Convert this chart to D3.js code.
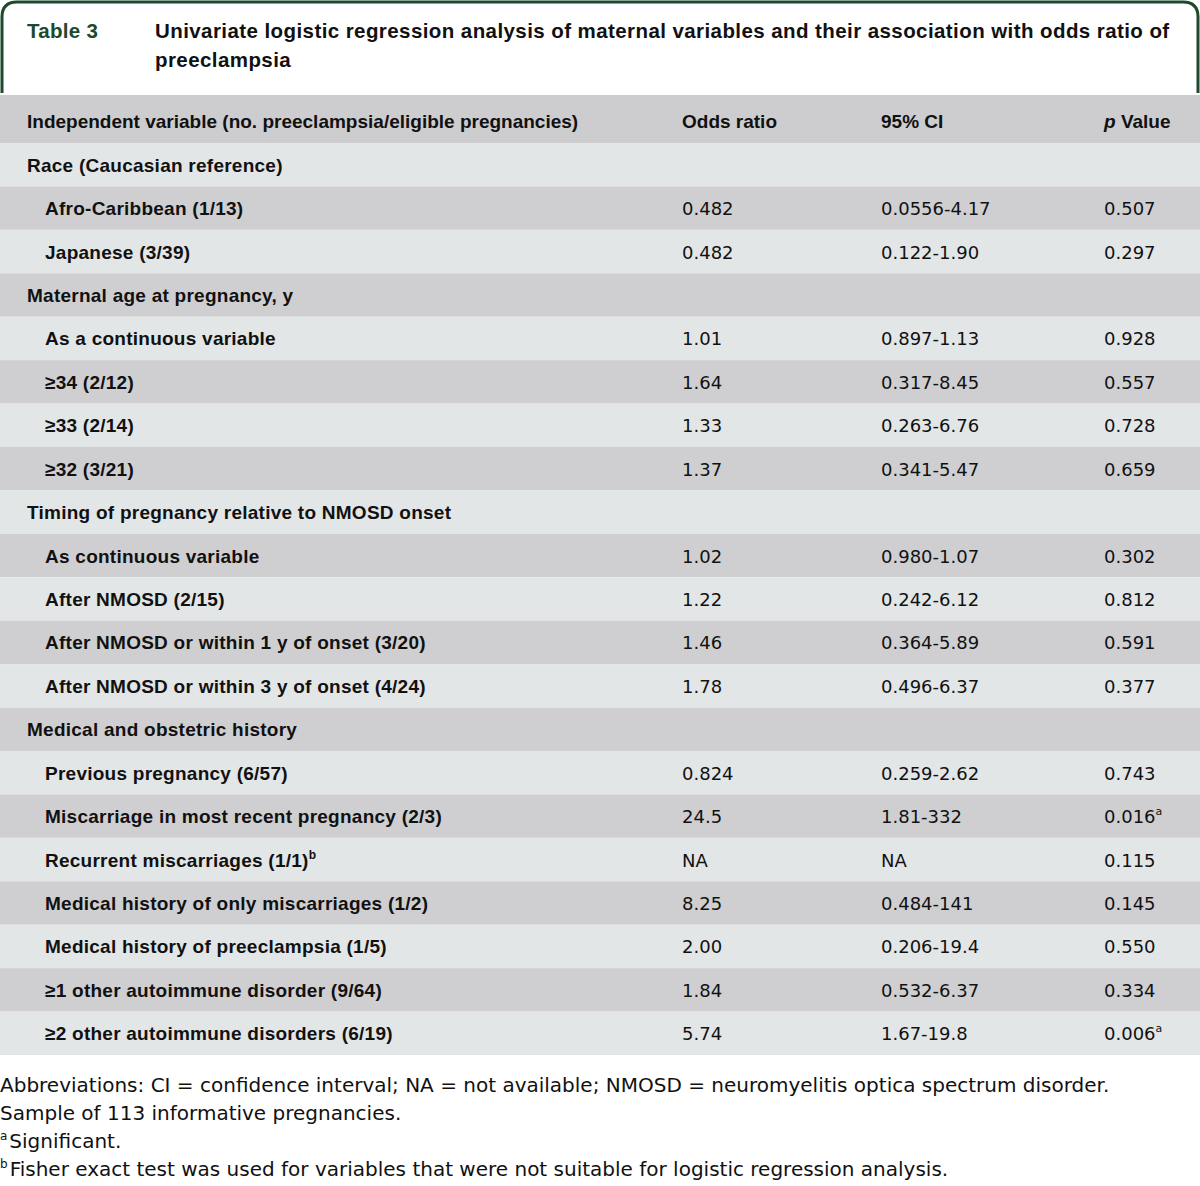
<!DOCTYPE html>
<html>
<head>
<meta charset="utf-8">
<script src="https://cdn.jsdelivr.net/npm/d3@7"></script>
<style>
  body { margin: 0; background: #fff; }
  svg text { font-family: "Liberation Sans", Arial, sans-serif; }
  svg text.num { font-family: "DejaVu Sans", sans-serif; }
</style>
</head>
<body>
<div id="chart"></div>
<script>
// row data
const labels = [
  'Race (Caucasian reference)',
  'Afro-Caribbean (1/13)',
  'Japanese (3/39)',
  'Maternal age at pregnancy, y',
  'As a continuous variable',
  '≥34 (2/12)',
  '≥33 (2/14)',
  '≥32 (3/21)',
  'Timing of pregnancy relative to NMOSD onset',
  'As continuous variable',
  'After NMOSD (2/15)',
  'After NMOSD or within 1 y of onset (3/20)',
  'After NMOSD or within 3 y of onset (4/24)',
  'Medical and obstetric history',
  'Previous pregnancy (6/57)',
  'Miscarriage in most recent pregnancy (2/3)',
  'Recurrent miscarriages (1/1)',
  'Medical history of only miscarriages (1/2)',
  'Medical history of preeclampsia (1/5)',
  '≥1 other autoimmune disorder (9/64)',
  '≥2 other autoimmune disorders (6/19)'
];
const isGroup = [1, 0, 0, 1, 0, 0, 0, 0, 1, 0, 0, 0, 0, 1, 0, 0, 0, 0, 0, 0, 0];
const labelSup = ['', '', '', '', '', '', '', '', '', '', '', '', '', '', '', '', 'b', '', '', '', ''];
const oddsRatios = ['', '0.482', '0.482', '', '1.01', '1.64', '1.33', '1.37', '', '1.02', '1.22', '1.46', '1.78',
                    '', '0.824', '24.5', 'NA', '8.25', '2.00', '1.84', '5.74'];
const cis = ['', '0.0556-4.17', '0.122-1.90', '', '0.897-1.13', '0.317-8.45', '0.263-6.76', '0.341-5.47', '',
             '0.980-1.07', '0.242-6.12', '0.364-5.89', '0.496-6.37', '', '0.259-2.62', '1.81-332', 'NA',
             '0.484-141', '0.206-19.4', '0.532-6.37', '1.67-19.8'];
const pValues = ['', '0.507', '0.297', '', '0.928', '0.557', '0.728', '0.659', '', '0.302', '0.812', '0.591', '0.377',
                 '', '0.743', '0.016', '0.115', '0.145', '0.550', '0.334', '0.006'];
const pSup = ['', '', '', '', '', '', '', '', '', '', '', '', '', '', '', 'a', '', '', '', '', 'a'];
const headers = ['Independent variable (no. preeclampsia/eligible pregnancies)', 'Odds ratio', '95% CI', 'Value'];
const footnotes = [
  { sup : '', text : 'Abbreviations: CI = confidence interval; NA = not available; NMOSD = neuromyelitis optica spectrum disorder.' },
  { sup : '', text : 'Sample of 113 informative pregnancies.' },
  { sup : 'a', text : 'Significant.' },
  { sup : 'b', text : 'Fisher exact test was used for variables that were not suitable for logistic regression analysis.' }
];

const width  = 1200;
const height = 1186;
const green  = '#1d4a2c';

const svg = d3.select( '#chart' )
              .append( 'svg' )
              .attr( 'width', width )
              .attr( 'height', height );

// title box
svg.append( 'path' )
   .attr( 'd', 'M2,93 L2,17 Q2,2 17,2 L1183,2 Q1198,2 1198,17 L1198,93' )
   .attr( 'fill', 'none' )
   .attr( 'stroke', green )
   .attr( 'stroke-width', 3 );

svg.append( 'text' )
   .attr( 'x', 27 ).attr( 'y', 38 )
   .attr( 'font-size', 20.5 ).attr( 'font-weight', 'bold' )
   .attr( 'letter-spacing', 0.3 )
   .attr( 'fill', green )
   .text( 'Table 3' );

const titleLines = ['Univariate logistic regression analysis of maternal variables and their association with odds ratio of',
                    'preeclampsia'];
svg.selectAll( '.title' )
   .data( titleLines )
   .enter()
   .append( 'text' )
   .attr( 'class', 'title' )
   .attr( 'x', 155 )
   .attr( 'y', ( d, i ) => 38 + i * 29 )
   .attr( 'font-size', 20.5 ).attr( 'font-weight', 'bold' )
   .attr( 'letter-spacing', 0.42 )
   .attr( 'fill', '#111' )
   .text( d => d );

// row scale
const y = d3.scaleBand()
            .domain( d3.range( labels.length ) )
            .range( [143, 1055] )
            .padding( 0 );

const colX = [27, 682, 881, 1104];

// header row
svg.append( 'rect' )
   .attr( 'x', 0 ).attr( 'y', 95 )
   .attr( 'width', width ).attr( 'height', 48 )
   .attr( 'fill', '#cdcdcf' );

const hdr = svg.append( 'g' )
               .attr( 'font-size', 19 )
               .attr( 'font-weight', 'bold' )
               .attr( 'fill', '#111' );
headers.forEach( ( h, i ) => {
	const t = hdr.append( 'text' ).attr( 'x', colX[i] ).attr( 'y', 128 );
	if ( i === 3 ) {
		t.append( 'tspan' ).attr( 'font-style', 'italic' ).text( 'p ' );
	}
	t.append( 'tspan' ).text( h );
} );

const rows = svg.selectAll( '.row' )
                .data( labels )
                .enter()
                .append( 'g' )
                .attr( 'class', 'row' )
                .attr( 'transform', ( d, i ) => `translate(0,${y( i )})` );

rows.append( 'rect' )
    .attr( 'width', width )
    .attr( 'height', y.bandwidth() )
    .attr( 'fill', ( d, i ) => i % 2 === 0 ? '#e3e6e7' : '#cfcfd1' );

const base = y.bandwidth() / 2 + 7;

const lab = rows.append( 'text' )
                .attr( 'x', ( d, i ) => isGroup[i] ? 27 : 45 )
                .attr( 'y', base )
                .attr( 'font-size', 19 )
                .attr( 'font-weight', 'bold' )
                .attr( 'letter-spacing', 0.25 )
                .attr( 'fill', '#111' );
lab.append( 'tspan' ).text( d => d );
lab.append( 'tspan' )
   .attr( 'font-size', 12 )
   .attr( 'dy', -8 )
   .text( ( d, i ) => labelSup[i] );

rows.append( 'text' )
    .attr( 'class', 'num' )
    .attr( 'x', colX[1] ).attr( 'y', base )
    .attr( 'font-size', 18 ).attr( 'fill', '#111' )
    .text( ( d, i ) => oddsRatios[i] );

rows.append( 'text' )
    .attr( 'class', 'num' )
    .attr( 'x', colX[2] ).attr( 'y', base )
    .attr( 'font-size', 18 ).attr( 'fill', '#111' )
    .text( ( d, i ) => cis[i] );

const pv = rows.append( 'text' )
               .attr( 'class', 'num' )
               .attr( 'x', colX[3] ).attr( 'y', base )
               .attr( 'font-size', 18 ).attr( 'fill', '#111' );
pv.append( 'tspan' ).text( ( d, i ) => pValues[i] );
pv.append( 'tspan' )
  .attr( 'font-size', 11 )
  .attr( 'dy', -8 )
  .text( ( d, i ) => pSup[i] );

// footnotes
const fn = svg.selectAll( '.fn' )
              .data( footnotes )
              .enter()
              .append( 'text' )
              .attr( 'class', 'fn num' )
              .attr( 'x', 0 )
              .attr( 'y', ( d, i ) => 1092 + i * 28 )
              .attr( 'font-size', 20 )
              .attr( 'fill', '#111' );
fn.append( 'tspan' )
  .attr( 'font-size', 12 )
  .attr( 'dy', -8 )
  .text( d => d.sup );
fn.append( 'tspan' )
  .attr( 'dy', d => d.sup ? 8 : 0 )
  .attr( 'dx', d => d.sup ? 2 : 0 )
  .text( d => d.text );
</script>
</body>
</html>
